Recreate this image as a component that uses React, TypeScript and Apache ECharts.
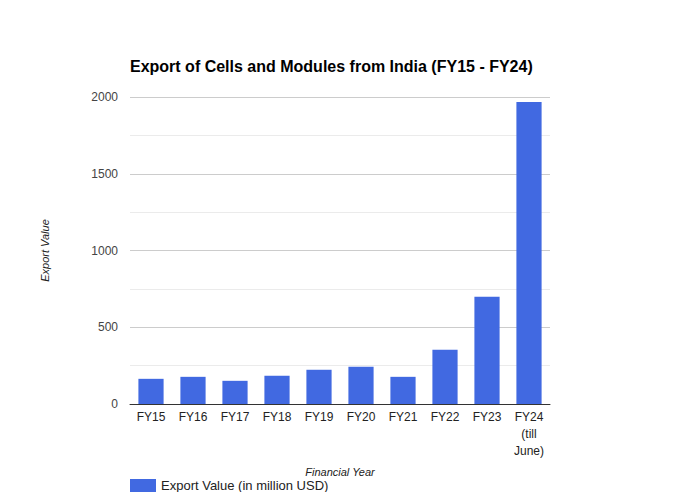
import React, { useEffect, useRef } from "react";
import * as echarts from "echarts";

const categories = ["FY15", "FY16", "FY17", "FY18", "FY19", "FY20", "FY21", "FY22", "FY23", "FY24\n(till\nJune)"];
const exportValues = [164, 177, 151, 184, 223, 242, 177, 353, 698, 1967];
const seriesName = "Export Value (in million USD)";
const titleText = "Export of Cells and Modules from India (FY15 - FY24)";

export default function App() {
  const ref = useRef<HTMLDivElement>(null);
  useEffect(() => {
    if (!ref.current) return;
    const chart = echarts.init(ref.current, null, { renderer: "svg" });
    chart.setOption({
      animation: false,
      backgroundColor: "#ffffff",
      textStyle: { fontFamily: "Arial, 'Liberation Sans', sans-serif" },
      title: {
        text: titleText,
        left: 125,
        top: 53,
        textStyle: { fontSize: 16, fontWeight: "bold", color: "#000", fontFamily: "Arial, 'Liberation Sans', sans-serif" },
      },
      grid: { left: 130, right: 130, top: 97, bottom: 96, containLabel: false },
      legend: {
        left: 130,
        top: 479,
        padding: 0,
        icon: "rect",
        itemWidth: 26,
        itemHeight: 13,
        itemGap: 6,
        textStyle: { fontSize: 13, color: "#222", fontFamily: "Arial, 'Liberation Sans', sans-serif" },
        data: [seriesName],
      },
      xAxis: {
        type: "category",
        data: categories,
        name: "Financial Year",
        nameLocation: "middle",
        nameGap: 62,
        nameTextStyle: { fontStyle: "italic", fontSize: 11, color: "#222" },
        axisLine: { lineStyle: { color: "#333", width: 1 } },
        axisTick: { show: false },
        axisLabel: { color: "#222", fontSize: 12, margin: 4, lineHeight: 17, interval: 0 },
      },
      yAxis: {
        type: "value",
        min: 0,
        max: 2000,
        interval: 500,
        name: "Export Value",
        nameLocation: "middle",
        nameGap: 80,
        nameTextStyle: { fontStyle: "italic", fontSize: 11, color: "#222" },
        axisLine: { show: false },
        axisTick: { show: false },
        axisLabel: { color: "#444", fontSize: 12, margin: 12, formatter: (v: number) => String(v) },
        splitLine: { lineStyle: { color: "#cccccc", width: 1 } },
        minorTick: { show: false, splitNumber: 2 },
        minorSplitLine: { show: true, lineStyle: { color: "#ebebeb", width: 1 } },
      },
      series: [
        {
          name: seriesName,
          type: "bar",
          data: exportValues,
          barWidth: "60%",
          itemStyle: { color: "#4169e1" },
        },
      ],
    });
    return () => chart.dispose();
  }, []);
  return <div ref={ref} style={{ width: 680, height: 500, margin: -8 }} />;
}
